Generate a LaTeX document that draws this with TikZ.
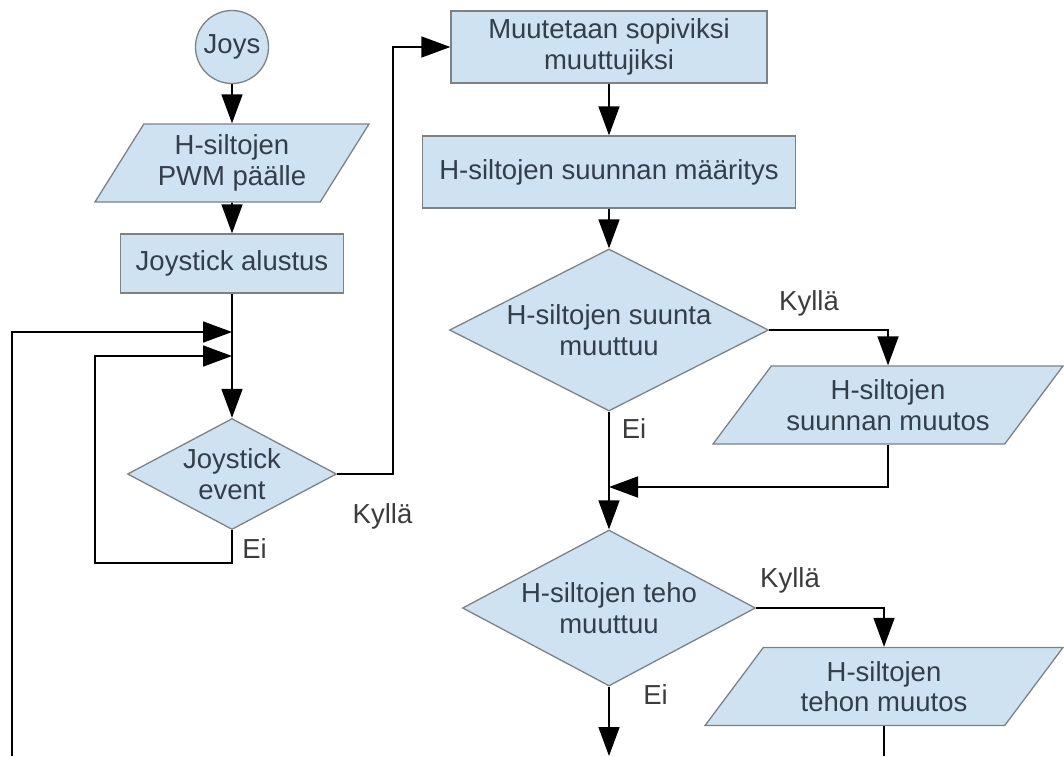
\documentclass[tikz,border=0pt]{standalone}
\usepackage{fontspec}
\setmainfont{Liberation Sans}
\usetikzlibrary{shapes.geometric,arrows.meta}
\definecolor{boxfill}{RGB}{207,226,242}
\definecolor{boxline}{RGB}{125,130,135}
\definecolor{boxtext}{RGB}{50,62,74}
\definecolor{labtext}{RGB}{60,60,60}
\begin{document}
\begin{tikzpicture}[x=1pt,y=-1pt,
  base/.style={draw=boxline,line width=1.3pt,fill=boxfill,text=boxtext,
    inner sep=0pt,align=center,font=\fontsize{27.5}{30.5}\selectfont},
  proc/.style={base,rectangle},
  start/.style={base,circle,minimum size=73pt},
  io/.style={base,trapezium,trapezium stretches body,
    trapezium left angle=#1,trapezium right angle=180-#1,minimum height=78pt},
  ask/.style={base,diamond},
  flow/.style={line width=1.6pt,-{Triangle[length=29pt,width=21pt]}},
  line/.style={line width=1.6pt},
  lab/.style={text=labtext,anchor=base,font=\fontsize{27.5}{30.5}\selectfont}]
\useasboundingbox (0,0) rectangle (1064,756);
\node[start] (joys) at (232,47) {Joys};
\node[io=49,minimum width=274pt] (pwm) at (232,163) {H-siltojen\\PWM päälle};
\node[proc,minimum width=223pt,minimum height=59pt] (init) at (232,263.5)
  {Joystick alustus};
\node[ask,aspect=1.9,minimum width=209pt,minimum height=111pt] (event)
  at (232,474) {Joystick\\event};
\node[proc,minimum width=316pt,minimum height=72pt] (conv) at (609,47)
  {Muutetaan sopiviksi\\muuttujiksi};
\node[proc,minimum width=373pt,minimum height=72pt] (dir) at (609,172)
  {H-siltojen suunnan määritys};
\node[ask,aspect=2,minimum width=319pt,minimum height=162pt] (dirq)
  at (609,330) {H-siltojen suunta\\muuttuu};
\node[io=41,minimum width=350pt] (dirset) at (888,405)
  {H-siltojen\\suunnan muutos};
\node[ask,aspect=1.9,minimum width=293pt,minimum height=156pt] (powq)
  at (609,608) {H-siltojen teho\\muuttuu};
\node[io=41,minimum width=358pt] (powset) at (884,686.5)
  {H-siltojen\\tehon muutos};
\coordinate (m1) at (232,332);
\coordinate (m2) at (232,356);
\coordinate (back) at (12,756);
\coordinate (eiturn) at (95,563);
\coordinate (kturn) at (393,47);
\coordinate (m3) at (609,487);
\coordinate (out) at (609,756);
\coordinate (powout) at (powset.south |- out);
\draw[flow] (joys) -- (pwm);
\draw[flow] (pwm) -- (init);
\draw[flow] (init) -- (event);
\draw[flow] (back) |- (m1);
\draw[flow] (event.south) |- (eiturn) |- (m2);
\draw[flow] (event.east) -| (kturn) -- (conv.west);
\draw[flow] (conv) -- (dir);
\draw[flow] (dir) -- (dirq);
\draw[flow] (dirq.east) -| (dirset.north);
\draw[flow] (dirq) -- (powq);
\draw[flow] (dirset.south) |- (m3);
\draw[flow] (powq.east) -| (powset.north);
\draw[flow] (powq) -- (out);
\draw[line] (powset.south) -- (powout);
\node[lab] (yes1) at (382.5,523) {Kyllä};
\node[lab] (no1) at (254.5,558) {Ei};
\node[lab] (yes2) at (809,310) {Kyllä};
\node[lab] (no2) at (634,438) {Ei};
\node[lab] (yes3) at (790,587) {Kyllä};
\node[lab] (no3) at (655.5,704) {Ei};
\end{tikzpicture}
\end{document}
